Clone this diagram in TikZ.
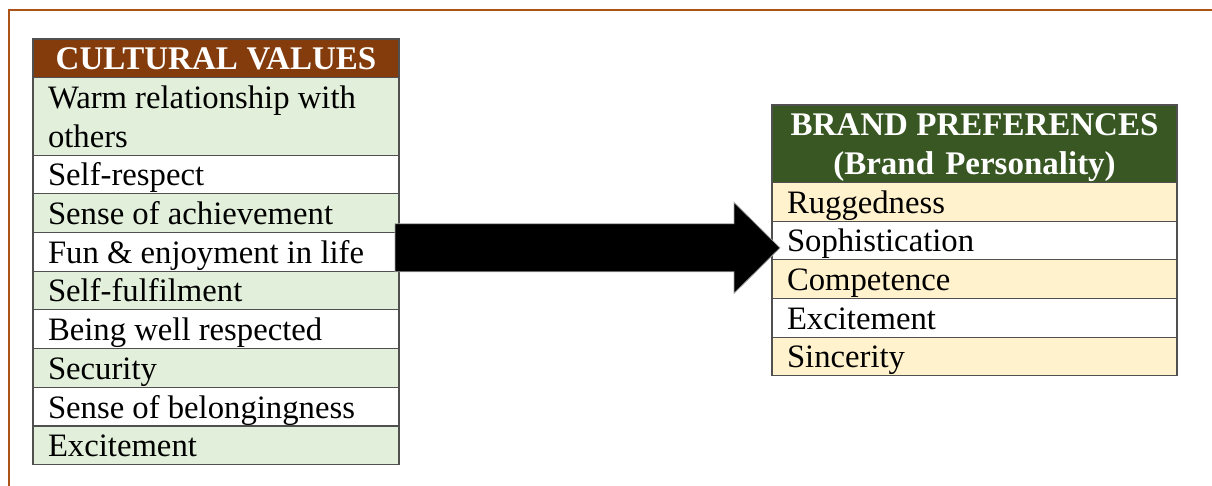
\documentclass[tikz,border=0pt]{standalone}
\usepackage{fontspec}
\setmainfont{Liberation Serif}
\usetikzlibrary{calc}

\definecolor{framebrown}{RGB}{172,84,24}
\definecolor{headbrown}{HTML}{843C0C}
\definecolor{headgreen}{HTML}{385723}
\definecolor{lightgreen}{HTML}{E2EFDA}
\definecolor{lightgold}{HTML}{FFF2CC}
\definecolor{cellline}{RGB}{80,80,80}

% every line of a cell carries this strut: 30.7 above the baseline, 8 below
\newcommand{\cellstrut}{\rule[-8pt]{0pt}{38.7pt}}
\newcommand{\cellface}{\fontsize{32.7pt}{38.7pt}\selectfont}
\newcommand{\headface}{\fontsize{33pt}{38.7pt}\selectfont\bfseries}

\tikzset{
  % all cells keep the font's own word spaces
  cellbase/.style={draw=cellline, line width=1.1pt, anchor=north west,
    inner xsep=15pt, inner ysep=0pt, outer sep=0pt,
    execute at begin node={\spaceskip=0pt\xspaceskip=0pt\relax}},
  lcell/.style={cellbase, font=\cellface, text width=336pt, align=left},
  rcell/.style={cellbase, font=\cellface, text width=375pt, align=left},
  lhead/.style={cellbase, text width=336pt, align=center, fill=headbrown,
    text=white, font=\headface},
  rhead/.style={cellbase, text width=375pt, align=center, fill=headgreen,
    text=white, font=\headface},
  frameline/.style={draw=framebrown, line width=2.4pt},
  bigarrow/.style={fill=black, draw=black!35, line width=0.8pt},
}

\begin{document}
\begin{tikzpicture}[x=1pt, y=-1pt]
  \useasboundingbox (0,0) rectangle (1212,486);

  % outer frame
  \draw[frameline] (9,486) -- (9,10) -- (1212,10);

  % cultural values table
  \node[lhead] (lh) at (33,39) {\cellstrut CULTURAL VALUES};
  \node[lcell, fill=lightgreen] (l1) at (lh.south west)
    {\cellstrut Warm relationship with\\\cellstrut others};
  \node[lcell, fill=white] (l2) at (l1.south west) {\cellstrut Self-respect};
  \node[lcell, fill=lightgreen] (l3) at (l2.south west) {\cellstrut Sense of achievement};
  \node[lcell, fill=white] (l4) at (l3.south west) {\cellstrut Fun \& enjoyment in life};
  \node[lcell, fill=lightgreen] (l5) at (l4.south west) {\cellstrut Self-fulfilment};
  \node[lcell, fill=white] (l6) at (l5.south west) {\cellstrut Being well respected};
  \node[lcell, fill=lightgreen] (l7) at (l6.south west) {\cellstrut Security};
  \node[lcell, fill=white] (l8) at (l7.south west) {\cellstrut Sense of belongingness};
  \node[lcell, fill=lightgreen] (l9) at (l8.south west) {\cellstrut Excitement};

  % brand preferences table
  \node[rhead] (rh) at (772,105)
    {\cellstrut BRAND PREFERENCES\\\cellstrut (Brand Personality)};
  \node[rcell, fill=lightgold] (r1) at (rh.south west) {\cellstrut Ruggedness};
  \node[rcell, fill=white] (r2) at (r1.south west) {\cellstrut Sophistication};
  \node[rcell, fill=lightgold] (r3) at (r2.south west) {\cellstrut Competence};
  \node[rcell, fill=white] (r4) at (r3.south west) {\cellstrut Excitement};
  \node[rcell, fill=lightgold] (r5) at (r4.south west) {\cellstrut Sincerity};

  % block arrow from the values table to the preferences table
  \coordinate (atail) at ([xshift=-4pt, yshift=4pt]l4.east);
  \coordinate (atip) at ([xshift=8pt]atail -| r2.west);
  \path[bigarrow]
    ([yshift=24pt]atail)
    -- ([xshift=-46pt, yshift=24pt]atip)
    -- ([xshift=-46pt, yshift=45.5pt]atip)
    -- (atip)
    -- ([xshift=-46pt, yshift=-45.5pt]atip)
    -- ([xshift=-46pt, yshift=-24pt]atip)
    -- ([yshift=-24pt]atail)
    -- cycle;
\end{tikzpicture}
\end{document}
